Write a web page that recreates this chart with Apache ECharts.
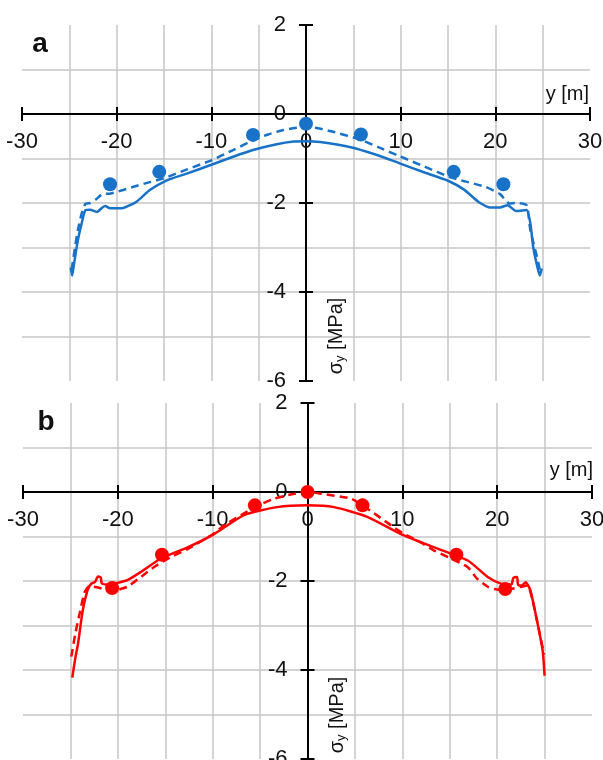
<!DOCTYPE html>
<html>
<head>
<meta charset="utf-8">
<script src="https://cdn.jsdelivr.net/npm/echarts@6/dist/echarts.min.js"></script>
<style>
  html, body { margin: 0; padding: 0; background: #fff; }
  #chart { width: 603px; height: 760px; }
</style>
</head>
<body>
<div id="chart"></div>
<script>
// Transverse stress sigma_y [MPa] along the width y [m]
// Panel a (blue) and panel b (red): solid line, dashed line and measured points.

const xTicks = [-30, -20, -10, 0, 10, 20, 30];
const yTicks = [-6, -4, -2, 0, 2];

const solidA = [
  [-24.85, -3.45], [-24.7, -3.63], [-24.5, -3.36], [-24.1, -2.84], [-23.7, -2.46],
  [-23.3, -2.16], [-22.8, -2.15], [-22.1, -2.2], [-21.5, -2.1], [-21.2, -2.07],
  [-20.7, -2.12], [-19.3, -2.11], [-17.9, -1.97], [-16.5, -1.71], [-14.7, -1.49],
  [-12.6, -1.34], [-10, -1.14], [-7.7, -0.96], [-5.6, -0.81], [-3.1, -0.68],
  [-1.3, -0.62], [0, -0.61], [1.5, -0.63], [4.6, -0.74], [7.5, -0.92],
  [9.9, -1.11], [12.6, -1.32], [15, -1.5], [16.7, -1.7], [18.2, -1.97],
  [19.5, -2.1], [20.5, -2.1], [21.3, -2.05], [22.2, -2.18], [23.3, -2.16],
  [23.7, -2.46], [24.0, -2.99], [24.4, -3.4], [24.7, -3.63], [24.9, -3.47]
];

const dashedA = [
  [-24.75, -3.5], [-24.4, -2.99], [-24.1, -2.61], [-23.7, -2.24], [-23.3, -2.02],
  [-22.8, -2.0], [-22.2, -1.92], [-21.5, -1.8], [-20.7, -1.79], [-19.5, -1.72],
  [-18.3, -1.64], [-16.5, -1.53], [-15.1, -1.45], [-12.5, -1.24], [-10, -1.04],
  [-7.7, -0.81], [-5.6, -0.59], [-4, -0.46], [-2.4, -0.36], [-1, -0.31],
  [0, -0.29], [1, -0.31], [2.85, -0.4], [5.7, -0.57], [7.7, -0.75],
  [9.9, -0.95], [12.5, -1.18], [15.2, -1.42], [16.9, -1.52], [19.0, -1.64],
  [20.5, -1.8], [21.5, -2.01], [22.3, -2.0], [23.3, -2.05], [23.7, -2.61],
  [24.4, -3.21], [24.75, -3.55]
];

const pointsA = [
  [-20.7, -1.58], [-15.5, -1.3], [-5.6, -0.47], [0, -0.22],
  [5.8, -0.46], [15.6, -1.3], [20.85, -1.58]
];

const solidB = [
  [-24.8, -4.17], [-24.5, -3.75], [-24.2, -3.41], [-23.7, -2.66], [-23.2, -2.21],
  [-22.8, -2.06], [-22.4, -2.02], [-22.1, -1.9], [-21.8, -1.92], [-21.7, -2.05],
  [-21.2, -2.08], [-20.5, -2.07], [-20, -2.04], [-19, -1.98], [-17.6, -1.8],
  [-15.5, -1.5], [-12.6, -1.24], [-9.8, -0.94], [-6.7, -0.52], [-3.2, -0.34],
  [0, -0.3], [2.8, -0.34], [6.3, -0.56], [9.8, -0.94], [13.3, -1.24],
  [16.9, -1.54], [19.0, -1.91], [20.4, -2.06], [21.5, -2.08], [21.7, -1.93],
  [22.1, -1.91], [22.2, -2.08], [22.6, -2.1], [23.0, -2.03], [23.5, -2.21],
  [24.2, -2.89], [24.8, -3.57], [25.0, -4.13]
];

const dashedB = [
  [-24.9, -3.7], [-24.5, -3.2], [-24.0, -2.7], [-23.5, -2.25], [-23, -2.12],
  [-22, -2.15], [-21, -2.22], [-20.3, -2.22], [-19.7, -2.18], [-19, -2.13],
  [-17.5, -1.9], [-16.2, -1.69], [-14.5, -1.47], [-12.6, -1.28], [-10, -0.95],
  [-8.8, -0.75], [-7.0, -0.52], [-5.5, -0.33], [-3.5, -0.15], [-1.4, -0.04],
  [0, 0], [1.5, -0.04], [4.6, -0.15], [5.8, -0.3], [7.3, -0.52],
  [8.8, -0.75], [10, -0.92], [11.5, -1.08], [13.3, -1.31], [15, -1.48],
  [16.9, -1.69], [17.9, -1.95], [19.1, -2.14], [19.7, -2.18], [20.5, -2.2],
  [21.5, -2.18], [22.5, -2.13], [23.2, -2.1], [23.7, -2.4], [24.3, -3.0],
  [24.95, -3.65]
];

const pointsB = [
  [-20.6, -2.16], [-15.35, -1.41], [-5.55, -0.3], [0, 0],
  [5.8, -0.3], [15.7, -1.41], [20.85, -2.18]
];

const BLUE = '#1872c8';
const RED = '#ff0000';
const FONT = '"Liberation Sans Narrow", "Arial Narrow", "Liberation Sans", Arial, sans-serif';
const GRIDLINE = { color: '#c6c6c6', width: 1.5 };
const TICK = { color: '#000', width: 2 };

const xMin = xTicks[0], xMax = xTicks[xTicks.length - 1];
const yMin = yTicks[0], yMax = yTicks[yTicks.length - 1];

// Main axes carry line, outward ticks, labels and grid lines.
function mainX(gridIndex) {
  return {
    type: 'value', gridIndex, position: 'bottom', min: xMin, max: xMax, interval: 10,
    axisLine: { onZero: false, lineStyle: { color: '#000', width: 2 } },
    axisTick: { show: true, length: 7, lineStyle: TICK },
    axisLabel: { color: '#111', fontSize: 22, fontFamily: FONT, margin: 17 },
    splitLine: { show: true, showMinLine: false, showMaxLine: false, lineStyle: GRIDLINE },
    minorTick: { show: false, splitNumber: 2 },
    minorSplitLine: { show: true, lineStyle: GRIDLINE }
  };
}
function mainY(gridIndex) {
  return {
    type: 'value', gridIndex, position: 'left', min: yMin, max: yMax, interval: 2,
    axisLine: { onZero: false, lineStyle: { color: '#000', width: 2 } },
    axisTick: { show: true, length: 7, lineStyle: TICK },
    axisLabel: { color: '#111', fontSize: 22, fontFamily: FONT, margin: 20 },
    splitLine: { show: true, showMinLine: false, showMaxLine: false, lineStyle: GRIDLINE },
    minorTick: { show: false, splitNumber: 2 },
    minorSplitLine: { show: true, lineStyle: GRIDLINE }
  };
}
// Companion axes only add the opposite half of each tick, so ticks cross the axis line.
function tickX(gridIndex) {
  return {
    type: 'value', gridIndex, position: 'top', min: xMin, max: xMax, interval: 10,
    axisLine: { show: false, onZero: false },
    axisTick: { show: true, length: 7, lineStyle: TICK },
    axisLabel: { show: false }, splitLine: { show: false }
  };
}
function tickY(gridIndex) {
  return {
    type: 'value', gridIndex, position: 'right', min: yMin, max: yMax, interval: 2,
    axisLine: { show: false, onZero: false },
    axisTick: { show: true, length: 7, lineStyle: TICK },
    axisLabel: { show: false }, splitLine: { show: false }
  };
}

function lineSeries(data, color, dashed, axisIdx) {
  return {
    type: 'line', data, xAxisIndex: axisIdx, yAxisIndex: axisIdx,
    showSymbol: false, smooth: 0.2, z: 3,
    lineStyle: { color, width: 2.5, type: dashed ? [8, 5] : 'solid' },
    silent: true, animation: false
  };
}
function pointSeries(data, color, axisIdx) {
  return {
    type: 'scatter', data, xAxisIndex: axisIdx, yAxisIndex: axisIdx,
    symbol: 'circle', symbolSize: 14, z: 4,
    itemStyle: { color, opacity: 1 }, animation: false
  };
}

function sigmaLabel(x, y) {
  return {
    type: 'text', x, y, rotation: Math.PI / 2, z: 10,
    style: {
      text: '{s|σ}{sub|y}{s| [MPa]}',
      align: 'center', verticalAlign: 'middle',
      rich: {
        s: { fontSize: 20, fontFamily: FONT, fill: '#111' },
        sub: { fontSize: 13, fontFamily: FONT, fill: '#111', verticalAlign: 'bottom', padding: [9, 0, 0, 0] }
      }
    }
  };
}
function yName(x, y) {
  return {
    type: 'text', x, y, z: 10,
    style: { text: 'y [m]', fontSize: 20, fontFamily: FONT, fill: '#111', align: 'right', verticalAlign: 'middle' }
  };
}
function panelTag(text, x, y) {
  return {
    type: 'text', x, y, z: 10,
    style: { text, fontSize: 28, fontWeight: 'bold', fontFamily: '"Liberation Sans", Arial, sans-serif', fill: '#111', align: 'center', verticalAlign: 'middle' }
  };
}

const chart = echarts.init(document.getElementById('chart'), null, { renderer: 'canvas' });
chart.setOption({
  animation: false,
  backgroundColor: '#fff',
  grid: [
    { left: 22, right: 13, top: 25, height: 356, containLabel: false, outerBoundsMode: 'none' },
    { left: 23, right: 11, top: 403, height: 356, containLabel: false, outerBoundsMode: 'none' }
  ],
  xAxis: [mainX(0), mainX(1), tickX(0), tickX(1)],
  yAxis: [mainY(0), mainY(1), tickY(0), tickY(1)],
  series: [
    lineSeries(solidA, BLUE, false, 0),
    lineSeries(dashedA, BLUE, true, 0),
    pointSeries(pointsA, BLUE, 0),
    lineSeries(solidB, RED, false, 1),
    lineSeries(dashedB, RED, true, 1),
    pointSeries(pointsB, RED, 1)
  ],
  graphic: [
    panelTag('a', 40, 44),
    panelTag('b', 46, 422),
    yName(589, 94),
    yName(593, 470),
    sigmaLabel(336, 336),
    sigmaLabel(337, 715)
  ]
});

// Move every axis onto the zero line of the other axis, using the library's own scales.
function crossOffsets(i) {
  const y0 = chart.convertToPixel({ yAxisIndex: i }, 0);
  const yBottom = chart.convertToPixel({ yAxisIndex: i }, yMin);
  const yTop = chart.convertToPixel({ yAxisIndex: i }, yMax);
  const x0 = chart.convertToPixel({ xAxisIndex: i }, 0);
  const xLeft = chart.convertToPixel({ xAxisIndex: i }, xMin);
  const xRight = chart.convertToPixel({ xAxisIndex: i }, xMax);
  return {
    bottom: -(yBottom - y0),
    top: yTop - y0,
    left: -(x0 - xLeft),
    right: x0 - xRight
  };
}
const oa = crossOffsets(0);
const ob = crossOffsets(1);
chart.setOption({
  xAxis: [{ offset: oa.bottom }, { offset: ob.bottom }, { offset: oa.top }, { offset: ob.top }],
  yAxis: [{ offset: oa.left }, { offset: ob.left }, { offset: oa.right }, { offset: ob.right }]
});
</script>
</body>
</html>
